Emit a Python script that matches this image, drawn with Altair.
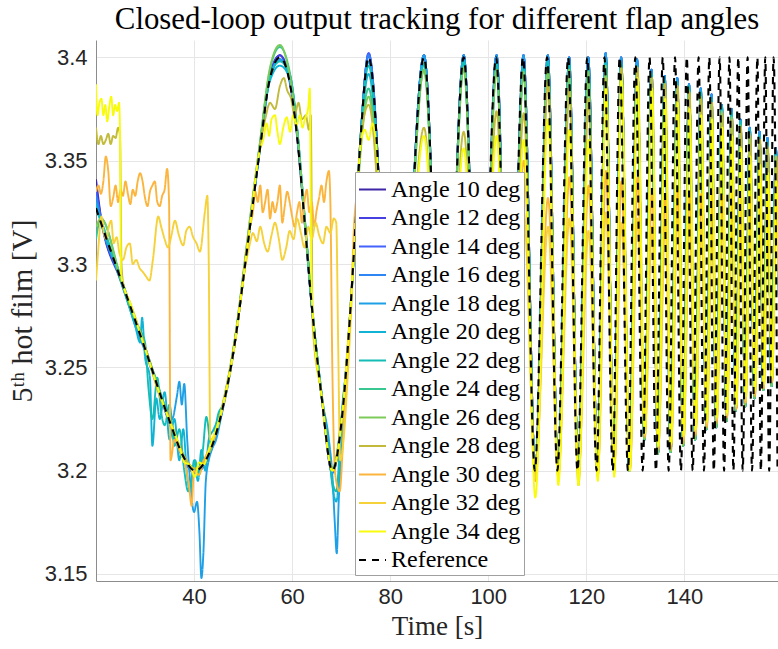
import altair as alt
import pandas as pd

# ---------------- series names / colours ----------------
SERIES = ["Angle 10 deg", "Angle 12 deg", "Angle 14 deg", "Angle 16 deg",
          "Angle 18 deg", "Angle 20 deg", "Angle 22 deg", "Angle 24 deg",
          "Angle 26 deg", "Angle 28 deg", "Angle 30 deg", "Angle 32 deg",
          "Angle 34 deg", "Reference"]
COLORS = ["#3E26A8", "#4740E0", "#4463FD", "#2E86F5", "#1FA0E6", "#10B3D4",
          "#14BDB5", "#38C693", "#7CCB5A", "#C2BA3A", "#FBB53E", "#F5D13A",
          "#F9FB0E", "#000000"]
DASHES = [[1, 0]] * 13 + [[7, 6]]

X_TICKS = [40, 60, 80, 100, 120, 140]
Y_TICKS = [3.15, 3.2, 3.25, 3.3, 3.35, 3.4]

# ---------------- early part (t <= ~77 s) ----------------
TRACK_T = [20, 21, 25, 30, 35, 38, 40.2, 43, 45.9, 48.7, 50, 51.4, 53.4, 55.4,
           57.5, 59.5, 61, 62.5, 64, 66, 68.2, 70, 71, 72, 73, 74, 75.6]
REF_EARLY_Y = [3.327, 3.320, 3.293, 3.259, 3.224, 3.206, 3.200, 3.208, 3.231,
               3.268, 3.292, 3.318, 3.355, 3.389, 3.400, 3.388, 3.362, 3.322,
               3.280, 3.236, 3.200, 3.222, 3.248, 3.282, 3.322, 3.362, 3.400]
Y10 = [3.341, 3.323, 3.293, 3.259, 3.223, 3.205, 3.199, 3.207, 3.231, 3.268,
       3.292, 3.319, 3.356, 3.390, 3.401, 3.389, 3.363, 3.322, 3.279, 3.236,
       3.200, 3.223, 3.248, 3.282, 3.322, 3.362, 3.401]
Y12 = [3.338, 3.322, 3.292, 3.259, 3.224, 3.206, 3.200, 3.208, 3.232, 3.268,
       3.293, 3.318, 3.355, 3.391, 3.401, 3.388, 3.362, 3.323, 3.280, 3.236,
       3.199, 3.222, 3.249, 3.281, 3.323, 3.363, 3.402]
Y14 = [3.335, 3.322, 3.294, 3.258, 3.224, 3.205, 3.199, 3.207, 3.231, 3.269,
       3.292, 3.318, 3.356, 3.390, 3.399, 3.390, 3.364, 3.322, 3.280, 3.237,
       3.200, 3.223, 3.248, 3.282, 3.322, 3.362, 3.402]
Y16 = [3.333, 3.321, 3.293, 3.260, 3.223, 3.206, 3.200, 3.208, 3.230, 3.268,
       3.293, 3.319, 3.355, 3.389, 3.399, 3.392, 3.366, 3.324, 3.281, 3.237,
       3.199, 3.222, 3.249, 3.283, 3.323, 3.363, 3.401]
Y24 = [3.312, 3.322, 3.294, 3.259, 3.225, 3.207, 3.201, 3.209, 3.232, 3.270,
       3.294, 3.321, 3.358, 3.393, 3.405, 3.393, 3.366, 3.325, 3.282, 3.236,
       3.201, 3.224, 3.249, 3.282, 3.321, 3.358, 3.385]
Y26 = [3.318, 3.322, 3.293, 3.260, 3.224, 3.206, 3.201, 3.208, 3.233, 3.270,
       3.295, 3.322, 3.358, 3.394, 3.406, 3.391, 3.364, 3.323, 3.281, 3.237,
       3.201, 3.223, 3.249, 3.281, 3.319, 3.355, 3.381]

A18_T = [20, 21, 25, 28, 30, 32, 34, 35.5, 36.5, 37.0, 37.5, 38.0, 38.6, 39.2,
         40.0, 40.6, 41.1, 41.5, 41.9, 42.4, 43.0, 43.6, 44.5, 45.9, 48.7, 50,
         51.4, 53.4, 55.4, 57.5, 59.5, 61, 62.5, 64, 66, 67.5, 68.2, 68.7, 69.1,
         69.5, 70, 71, 72, 73, 74, 75.6]
A18_Y = [3.330, 3.321, 3.294, 3.270, 3.258, 3.246, 3.232, 3.225, 3.236, 3.243,
         3.232, 3.242, 3.215, 3.195, 3.180, 3.185, 3.170, 3.148, 3.160, 3.195,
         3.205, 3.210, 3.215, 3.231, 3.268, 3.292, 3.318, 3.355, 3.389, 3.399,
         3.389, 3.363, 3.322, 3.280, 3.236, 3.215, 3.198, 3.175, 3.160, 3.185,
         3.205, 3.248, 3.281, 3.322, 3.362, 3.398]

A20_T = [20, 21, 25, 27, 28, 29, 29.4, 30, 31, 31.5, 32.3, 33, 34, 35, 36, 37,
         37.8, 38.5, 39.2, 40, 40.8, 41.5, 42.3, 43, 44, 45.9, 48.7, 50, 51.4,
         53.4, 55.4, 57.5, 59.5, 61, 62.5, 64, 66, 67.5, 68.2, 69, 69.6, 70, 71,
         72, 73, 74, 75.6]
A20_Y = [3.329, 3.320, 3.293, 3.278, 3.270, 3.262, 3.274, 3.255, 3.245, 3.212,
         3.235, 3.225, 3.238, 3.215, 3.225, 3.205, 3.220, 3.200, 3.190, 3.205,
         3.195, 3.210, 3.200, 3.215, 3.220, 3.232, 3.268, 3.292, 3.318, 3.356,
         3.388, 3.396, 3.390, 3.365, 3.323, 3.280, 3.238, 3.210, 3.193, 3.185,
         3.200, 3.222, 3.249, 3.281, 3.322, 3.360, 3.392]

A22_T = [20, 21, 25, 28, 29, 30, 30.7, 31.5, 32.5, 33.3, 34, 35, 36, 37, 38,
         38.8, 39.5, 40.2, 41, 41.8, 42.5, 43.5, 45, 45.9, 48.7, 50, 51.4, 53.4,
         55.4, 57.5, 59.5, 61, 62.5, 64, 66, 67.5, 68.2, 69, 70, 71, 72, 73, 74,
         75.6]
A22_Y = [3.326, 3.321, 3.292, 3.272, 3.268, 3.262, 3.240, 3.225, 3.245, 3.228,
         3.222, 3.232, 3.212, 3.220, 3.200, 3.190, 3.195, 3.205, 3.198, 3.210,
         3.226, 3.212, 3.228, 3.232, 3.269, 3.293, 3.319, 3.357, 3.390, 3.398,
         3.392, 3.366, 3.324, 3.281, 3.237, 3.208, 3.195, 3.190, 3.222, 3.249,
         3.280, 3.322, 3.363, 3.396]

A28_T = [20, 20.5, 21, 21.5, 22, 22.5, 23, 23.5, 24, 24.5, 24.9, 25.2, 25.6, 27,
         30, 33, 35, 38, 40.2, 43, 45.9, 48.7, 50, 51.4, 53.4, 54.5, 55.5, 56.5,
         57.5, 58.3, 59, 59.8, 60.5, 61.3, 62, 62.8, 63.4, 63.8, 64.2, 66, 68.2,
         70, 71, 72, 73, 74, 75.6]
A28_Y = [3.366, 3.358, 3.362, 3.358, 3.360, 3.363, 3.358, 3.362, 3.361, 3.366,
         3.362, 3.300, 3.290, 3.281, 3.260, 3.236, 3.225, 3.207, 3.201, 3.209,
         3.232, 3.269, 3.293, 3.319, 3.356, 3.370, 3.378, 3.375, 3.386, 3.390,
         3.384, 3.380, 3.372, 3.378, 3.370, 3.372, 3.365, 3.372, 3.270, 3.237,
         3.200, 3.222, 3.248, 3.282, 3.322, 3.360, 3.377]

A30_T = [20, 20.5, 21, 21.5, 22, 22.5, 23, 23.5, 24, 24.5, 25, 25.5, 26, 26.5,
         27, 27.5, 28, 28.5, 29, 29.5, 30, 30.5, 31, 31.5, 32, 32.5, 33, 33.5,
         34, 34.5, 34.9, 35.2, 36, 37, 38, 39, 39.5, 40, 41, 42, 43, 44, 45.9,
         48.7, 50, 51.4, 52, 52.5, 53, 53.5, 54, 54.5, 55, 55.5, 56, 56.5, 57,
         57.5, 58, 58.5, 59, 59.5, 60, 60.5, 61, 61.5, 62, 62.5, 63, 63.5, 64,
         64.5, 65, 65.5, 66, 66.5, 67, 67.5, 67.8, 68.2, 68.8, 69.7, 70.3, 71,
         72, 72.8, 73.5, 74.5, 75.5, 76.5]
A30_Y = [3.335, 3.338, 3.334, 3.340, 3.352, 3.345, 3.328, 3.332, 3.338, 3.330,
         3.336, 3.333, 3.340, 3.334, 3.329, 3.336, 3.333, 3.340, 3.344, 3.340,
         3.332, 3.328, 3.335, 3.338, 3.340, 3.330, 3.328, 3.333, 3.336, 3.346,
         3.330, 3.205, 3.215, 3.210, 3.205, 3.192, 3.183, 3.200, 3.198, 3.205,
         3.210, 3.215, 3.232, 3.268, 3.292, 3.318, 3.325, 3.335, 3.330, 3.338,
         3.325, 3.330, 3.336, 3.322, 3.330, 3.325, 3.330, 3.338, 3.320, 3.328,
         3.335, 3.330, 3.323, 3.318, 3.325, 3.330, 3.320, 3.330, 3.336, 3.325,
         3.330, 3.318, 3.326, 3.332, 3.338, 3.330, 3.340, 3.345, 3.330, 3.250,
         3.198, 3.190, 3.210, 3.248, 3.282, 3.325, 3.335, 3.330, 3.338, 3.330]

A32_T = [20, 20.4, 21.1, 21.6, 22.1, 22.6, 23.1, 23.6, 24.2, 24.8, 25.5, 26.2,
         26.9, 27.5, 28.2, 28.9, 29.6, 30.2, 30.9, 31.6, 32.7, 33.3, 34.0, 34.7,
         35.4, 36.1, 36.9, 37.8, 38.4, 39.1, 39.8, 40.5, 41.2, 42.2, 42.7, 43.0,
         43.3, 45.9, 48.7, 50, 51.4, 52.0, 52.8, 53.5, 54.3, 55, 55.8, 56.5,
         57.3, 58, 58.8, 59.5, 60.3, 61, 61.8, 62.5, 63.3, 64, 64.8, 65.5, 66.3,
         67, 67.8, 68.5, 69.0, 69.4, 69.8, 70.5, 71.2, 72, 72.7, 73.5, 74.5,
         75.5, 76.5]
A32_Y = [3.292, 3.305, 3.323, 3.315, 3.312, 3.318, 3.321, 3.310, 3.313, 3.305,
         3.302, 3.308, 3.310, 3.300, 3.302, 3.298, 3.296, 3.294, 3.292, 3.302,
         3.323, 3.318, 3.312, 3.308, 3.314, 3.321, 3.314, 3.309, 3.316, 3.318,
         3.313, 3.310, 3.306, 3.325, 3.333, 3.300, 3.215, 3.231, 3.268, 3.292,
         3.310, 3.315, 3.311, 3.318, 3.310, 3.306, 3.314, 3.320, 3.312, 3.302,
         3.308, 3.316, 3.312, 3.322, 3.315, 3.308, 3.318, 3.312, 3.320, 3.314,
         3.310, 3.318, 3.315, 3.322, 3.320, 3.260, 3.205, 3.215, 3.240, 3.275,
         3.308, 3.312, 3.318, 3.310, 3.315]

A34_T = [20, 20.3, 20.7, 21.1, 21.5, 21.9, 22.3, 22.7, 23.1, 23.5, 23.9, 24.3,
         24.7, 24.9, 25.1, 27, 30, 33, 35, 37, 38, 39, 40.2, 41, 42, 43, 45.9,
         48.7, 50, 51.4, 53.4, 54.1, 54.8, 55.3, 55.8, 56.5, 57, 57.5, 58.2,
         58.9, 59.6, 60.2, 60.9, 61.6, 62.1, 62.6, 63.3, 63.6, 63.9, 64.2, 66,
         68.2, 70, 71, 72, 73, 74, 74.8, 75.6, 76.4]
A34_Y = [3.387, 3.372, 3.378, 3.380, 3.372, 3.377, 3.369, 3.376, 3.381, 3.372,
         3.377, 3.374, 3.378, 3.362, 3.295, 3.281, 3.259, 3.237, 3.224, 3.212,
         3.204, 3.203, 3.197, 3.204, 3.203, 3.210, 3.232, 3.268, 3.292, 3.318,
         3.355, 3.360, 3.368, 3.362, 3.370, 3.372, 3.364, 3.358, 3.366, 3.371,
         3.364, 3.372, 3.367, 3.372, 3.366, 3.370, 3.376, 3.385, 3.300, 3.276,
         3.236, 3.200, 3.222, 3.248, 3.282, 3.322, 3.358, 3.365, 3.360, 3.368]

# ---------------- chirp tail: extremum times and levels ----------------
# reference extrema
TROUGH_T = [81.3, 91.0, 98.3, 104.3, 109.5, 114.1, 118.2, 122.1, 125.4, 128.5,
            131.5, 134.2, 136.8, 139.3, 141.7, 144.0, 146.0, 148.1, 150.0,
            151.9, 153.8, 155.6, 157.3, 159.0]
PEAK_T = [86.9, 95.0, 101.6, 107.1, 112.0, 116.3, 120.2, 123.7, 126.8, 130.0,
          132.9, 135.6, 138.1, 140.5, 142.9, 145.1, 147.2, 149.2, 151.0, 152.9,
          154.9, 156.5, 158.2]
# measured-output extrema (lagging at high frequency): angles 10-26
RESP_A_TROUGH_T = [81.3, 91.0, 98.3, 104.3, 109.6, 114.25, 118.35, 122.3, 125.65,
                   128.8, 131.85, 134.6, 137.2, 139.75, 142.2, 144.5, 146.5,
                   148.6, 150.5, 152.4, 154.3, 156.1, 157.8, 159.5]
RESP_A_PEAK_T = [86.9, 95.0, 101.7, 107.2, 112.15, 116.5, 120.4, 123.95, 127.1,
                 130.35, 133.3, 136.0, 138.55, 140.95, 143.35, 145.55, 147.65,
                 149.65, 151.45, 153.35, 155.35, 156.95, 158.65]
# angles 28-34
RESP_B_TROUGH_T = [81.3, 91.0, 98.3, 104.3, 109.6, 114.3, 118.4, 122.35, 125.7,
                   128.9, 131.95, 134.7, 137.3, 139.85, 142.3, 144.6, 146.6,
                   148.7, 150.6, 152.5, 154.4, 156.2, 157.9, 159.6]
RESP_B_PEAK_T = [86.9, 95.0, 101.7, 107.25, 112.2, 116.55, 120.45, 124.0, 127.15,
                 130.45, 133.4, 136.1, 138.65, 141.05, 143.45, 145.65, 147.75,
                 149.75, 151.55, 153.45, 155.45, 157.05, 158.75]

REF_TR = [3.2] * 24
REF_PK = [3.4] * 23

PK_TRACK = [3.401, 3.401, 3.401, 3.401, 3.401, 3.400, 3.400, 3.402, 3.400,
            3.399, 3.394, 3.391, 3.390, 3.387, 3.385, 3.382, 3.377, 3.375,
            3.370, 3.366, 3.364, 3.361, 3.356]
PK_CYAN = [3.397, 3.398, 3.397, 3.396, 3.398, 3.397, 3.396, 3.399, 3.397,
           3.396, 3.392, 3.389, 3.388, 3.386, 3.383, 3.380, 3.376, 3.373,
           3.369, 3.365, 3.362, 3.359, 3.354]
PK_GREEN = [3.394, 3.395, 3.394, 3.393, 3.395, 3.394, 3.393, 3.396, 3.395,
            3.394, 3.390, 3.387, 3.386, 3.384, 3.381, 3.378, 3.374, 3.371,
            3.367, 3.363, 3.360, 3.357, 3.352]
TR_TRACK = [3.200, 3.200, 3.200, 3.200, 3.199, 3.199, 3.199, 3.199, 3.200,
            3.200, 3.215, 3.208, 3.209, 3.212, 3.215, 3.220, 3.221, 3.224,
            3.229, 3.231, 3.235, 3.239, 3.241, 3.244]
PK_28 = [3.366, 3.364, 3.374, 3.373, 3.388, 3.385, 3.380, 3.390, 3.395, 3.395,
         3.390, 3.387, 3.386, 3.383, 3.380, 3.378, 3.373, 3.370, 3.366, 3.362,
         3.360, 3.356, 3.352]
TR_28 = [3.200, 3.200, 3.200, 3.199, 3.196, 3.197, 3.193, 3.197, 3.199, 3.201,
         3.216, 3.210, 3.210, 3.213, 3.217, 3.221, 3.223, 3.226, 3.230, 3.233,
         3.236, 3.240, 3.243, 3.246]
PK_30 = [3.336, 3.338, 3.342, 3.350, 3.332, 3.342, 3.338, 3.345, 3.340, 3.342,
         3.336, 3.334, 3.336, 3.335, 3.334, 3.336, 3.333, 3.335, 3.334, 3.333,
         3.335, 3.332, 3.334]
TR_30 = [3.200, 3.200, 3.200, 3.199, 3.195, 3.197, 3.196, 3.198, 3.200, 3.200,
         3.217, 3.211, 3.212, 3.215, 3.218, 3.222, 3.224, 3.226, 3.230, 3.233,
         3.237, 3.240, 3.243, 3.246]
PK_32 = [3.315, 3.318, 3.322, 3.325, 3.318, 3.322, 3.316, 3.325, 3.320, 3.322,
         3.318, 3.320, 3.324, 3.322, 3.318, 3.316, 3.322, 3.320, 3.318, 3.320,
         3.322, 3.318, 3.320]
TR_32 = [3.200, 3.200, 3.200, 3.199, 3.196, 3.198, 3.197, 3.198, 3.200, 3.201,
         3.218, 3.212, 3.213, 3.216, 3.219, 3.223, 3.225, 3.227, 3.231, 3.234,
         3.238, 3.241, 3.244, 3.247]
PK_34 = [3.362, 3.356, 3.362, 3.360, 3.370, 3.365, 3.360, 3.385, 3.392, 3.390,
         3.385, 3.380, 3.378, 3.375, 3.372, 3.370, 3.366, 3.362, 3.356, 3.352,
         3.348, 3.344, 3.340]
TR_34 = [3.198, 3.199, 3.198, 3.197, 3.187, 3.193, 3.193, 3.195, 3.197, 3.200,
         3.218, 3.212, 3.213, 3.217, 3.220, 3.224, 3.226, 3.228, 3.232, 3.236,
         3.239, 3.242, 3.245, 3.248]

EARLY = {
    "Angle 10 deg": (TRACK_T, Y10), "Angle 12 deg": (TRACK_T, Y12),
    "Angle 14 deg": (TRACK_T, Y14), "Angle 16 deg": (TRACK_T, Y16),
    "Angle 18 deg": (A18_T, A18_Y), "Angle 20 deg": (A20_T, A20_Y),
    "Angle 22 deg": (A22_T, A22_Y), "Angle 24 deg": (TRACK_T, Y24),
    "Angle 26 deg": (TRACK_T, Y26), "Angle 28 deg": (A28_T, A28_Y),
    "Angle 30 deg": (A30_T, A30_Y), "Angle 32 deg": (A32_T, A32_Y),
    "Angle 34 deg": (A34_T, A34_Y), "Reference": (TRACK_T, REF_EARLY_Y),
}
TAIL = {
    "Angle 10 deg": (PK_TRACK, TR_TRACK), "Angle 12 deg": (PK_TRACK, TR_TRACK),
    "Angle 14 deg": (PK_TRACK, TR_TRACK), "Angle 16 deg": (PK_TRACK, TR_TRACK),
    "Angle 18 deg": (PK_TRACK, TR_TRACK), "Angle 20 deg": (PK_CYAN, TR_TRACK),
    "Angle 22 deg": (PK_CYAN, TR_TRACK), "Angle 24 deg": (PK_GREEN, TR_TRACK),
    "Angle 26 deg": (PK_GREEN, TR_TRACK), "Angle 28 deg": (PK_28, TR_28),
    "Angle 30 deg": (PK_30, TR_30), "Angle 32 deg": (PK_32, TR_32),
    "Angle 34 deg": (PK_34, TR_34), "Reference": (REF_PK, REF_TR),
}
HIGH_ANGLES = {"Angle 28 deg", "Angle 30 deg", "Angle 32 deg", "Angle 34 deg"}

rows = []
for name in SERIES:
    et, ey = EARLY[name]
    pk, tr = TAIL[name]
    if name == "Reference":
        pt, tt = PEAK_T, TROUGH_T
    elif name in HIGH_ANGLES:
        pt, tt = RESP_B_PEAK_T, RESP_B_TROUGH_T
    else:
        pt, tt = RESP_A_PEAK_T, RESP_A_TROUGH_T
    pts = list(zip(et, ey)) + list(zip(pt, pk)) + list(zip(tt, tr))
    pts.sort(key=lambda p: p[0])
    for t, v in pts:
        rows.append({"t": t, "v": v, "s": name})
df = pd.DataFrame(rows)

SERIF = "Liberation Serif"
SANS = "Liberation Sans"

x_enc = alt.X("t:Q", scale=alt.Scale(domain=[20, 159.1], nice=False, zero=False),
              axis=alt.Axis(values=X_TICKS, title="Time [s]", format="d"))
y_enc = alt.Y("v:Q", scale=alt.Scale(domain=[3.1466, 3.4084], nice=False, zero=False),
              axis=alt.Axis(values=Y_TICKS, title="5ᵗʰ hot film [V]", format=".3~g"))
c_enc = alt.Color("s:N", scale=alt.Scale(domain=SERIES, range=COLORS),
                  legend=alt.Legend(title=None))
d_enc = alt.StrokeDash("s:N", scale=alt.Scale(domain=SERIES, range=DASHES),
                       legend=alt.Legend(title=None))

base = alt.Chart(df).encode(x=x_enc, y=y_enc, color=c_enc, strokeDash=d_enc)
angles = base.transform_filter(alt.datum.s != "Reference").mark_line(
    strokeWidth=1.9, interpolate="monotone", clip=True)
ref = base.transform_filter(alt.datum.s == "Reference").mark_line(
    strokeWidth=2.1, interpolate="monotone", clip=True)

chart = alt.layer(angles, ref).properties(
    width=682, height=541,
    autosize=alt.AutoSizeParams(type="none"),
    padding={"left": 96, "top": 40, "right": 0, "bottom": 68},
    title=alt.TitleParams(
        text="Closed-loop output tracking for different flap angles",
        font=SERIF, fontSize=30.8, fontWeight="normal", color="black",
        anchor="middle", frame="group", offset=4),
).configure_view(stroke=None).configure_axis(
    grid=True, gridColor="#e6e6e6", gridWidth=1,
    domainColor="#8c8c8c", domainWidth=1,
    ticks=False,
    labelFont=SANS, labelFontSize=22, labelColor="#262626",
    titleFont=SERIF, titleFontWeight="normal", titleColor="#262626",
).configure_axisX(labelPadding=5, titlePadding=6, titleFontSize=27).configure_axisY(
    labelPadding=9, titlePadding=7, titleFontSize=30
).configure_legend(
    orient="none", legendX=259, legendY=132,
    fillColor="white", strokeColor="#a0a0a0", padding=3,
    labelFont=SERIF, labelFontSize=24, labelColor="black", labelLimit=400,
    symbolType="stroke", symbolSize=729, symbolStrokeWidth=2,
    rowPadding=1.5, labelOffset=4,
)

chart.save("out.html", embed_options={"renderer": "svg", "actions": False})
